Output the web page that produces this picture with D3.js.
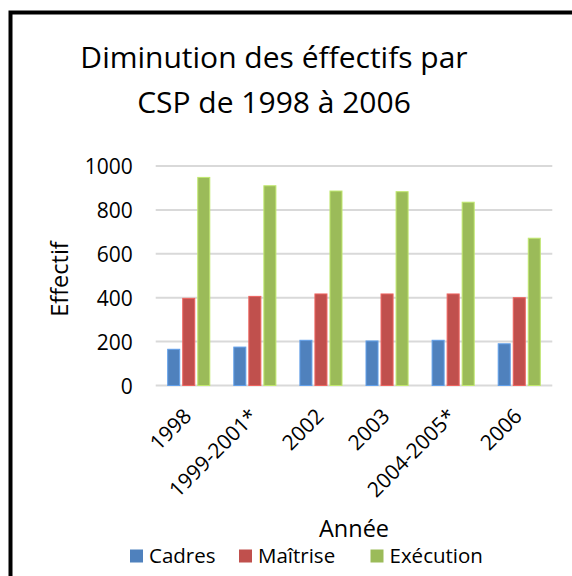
<!DOCTYPE html>
<html>
<head>
<meta charset="utf-8">
<script src="https://cdn.jsdelivr.net/npm/d3@7"></script>
<style>
	body { margin: 0; background: white; }
	svg { display: block; }
</style>
</head>
<body>
<script>
// categories (x axis) and one array per series
const years = ["1998", "1999-2001*", "2002", "2003", "2004-2005*", "2006"];
const cadres = [165, 175, 206, 203, 206, 190];
const maitrise = [397, 406, 417, 417, 417, 400];
const execution = [948, 910, 886, 883, 835, 671];
const seriesNames = ["Cadres", "Maîtrise", "Exécution"];
const seriesColors = ["#4F81BD", "#C0504D", "#9BBB59"];
const yTicks = [0, 200, 400, 600, 800, 1000];

const width = 572,
	height = 576,
	marginLeft = 155.7,
	marginRight = 19.7, // plot ends at 552.3
	plotTop = 166,
	plotBottom = 385.5;

const font = "'Open Sans', sans-serif";

// long table built from the arrays
const table = years.map((y, i) => ({
	year: y,
	values: [cadres[i], maitrise[i], execution[i]]
}));

const svg = d3.select("body")
	.append("svg")
	.attr("width", width)
	.attr("height", height)
	.attr("font-family", font)
	.style("background-color", "white");

// black frame, runs off the right and bottom of the picture
svg.append("rect")
	.attr("x", 10.5)
	.attr("y", 12.5)
	.attr("width", width + 20)
	.attr("height", height + 20)
	.attr("fill", "none")
	.attr("stroke", "black")
	.attr("stroke-width", 4);

// title, two lines
const title = svg.append("text")
	.attr("text-anchor", "middle")
	.attr("font-size", 30)
	.attr("fill", "#000");
title.append("tspan").attr("x", 274).attr("y", 68).text("Diminution des éffectifs par");
title.append("tspan").attr("x", 274).attr("y", 113).text("CSP de 1998 à 2006");

// scales
const x0 = d3.scaleBand()
	.domain(years)
	.range([marginLeft, width - marginRight])
	.padding(0);

const x1 = d3.scaleBand()
	.domain(seriesNames)
	.range([12, x0.bandwidth() - 12])
	.paddingInner(0.2)
	.paddingOuter(0);

const y = d3.scaleLinear()
	.domain([0, 1000])
	.range([plotBottom, plotTop]);

// horizontal gridlines
svg.append("g")
	.selectAll("line")
	.data(yTicks)
	.enter()
	.append("line")
	.attr("x1", marginLeft)
	.attr("x2", width - marginRight)
	.attr("y1", d => y(d))
	.attr("y2", d => y(d))
	.attr("stroke", "#D9D9D9")
	.attr("stroke-width", 2);

// y axis labels (no axis line)
const yAxis = svg.append("g")
	.attr("transform", `translate(${marginLeft - 8},0)`)
	.call(d3.axisLeft(y).tickValues(yTicks).tickFormat(d3.format("d")).tickSize(0).tickPadding(15));
yAxis.select(".domain").remove();
yAxis.selectAll("text")
	.attr("font-family", font)
	.attr("font-size", 21)
	.attr("fill", "#000")
	.attr("dy", "0.36em");

// bars
const groups = svg.append("g")
	.selectAll("g")
	.data(table)
	.enter()
	.append("g")
	.attr("transform", d => `translate(${x0(d.year)},0)`);

groups.selectAll("rect")
	.data(d => d.values.map((v, i) => ({ key: seriesNames[i], value: v, i: i })))
	.enter()
	.append("rect")
	.attr("x", d => x1(d.key))
	.attr("y", d => y(d.value))
	.attr("width", x1.bandwidth())
	.attr("height", d => y(0) - y(d.value))
	.attr("fill", d => seriesColors[d.i])
	.attr("stroke", d => d3.color(seriesColors[d.i]).brighter(0.6))
	.attr("stroke-width", 1);

// x axis labels, rotated 45 degrees
const xAxis = svg.append("g")
	.attr("transform", `translate(0,${plotBottom})`)
	.call(d3.axisBottom(x0).tickSize(0).tickPadding(0));
xAxis.select(".domain").remove();
xAxis.selectAll("text")
	.attr("font-family", font)
	.attr("font-size", 21)
	.attr("fill", "#000")
	.attr("text-anchor", "end")
	.attr("dy", 0)
	.attr("transform", "translate(4,32) rotate(-45)");

// axis titles
svg.append("text")
	.attr("transform", "translate(68,279) rotate(-90)")
	.attr("text-anchor", "middle")
	.attr("font-size", 23.5)
	.text("Effectif");

svg.append("text")
	.attr("x", (marginLeft + width - marginRight) / 2)
	.attr("y", 536.5)
	.attr("text-anchor", "middle")
	.attr("font-size", 23.5)
	.text("Année");

// legend
const legendX = [130, 239, 370.5];
const legend = svg.append("g")
	.selectAll("g")
	.data(seriesNames)
	.enter()
	.append("g")
	.attr("transform", (d, i) => `translate(${legendX[i]},549.5)`);

legend.append("rect")
	.attr("width", 13)
	.attr("height", 13)
	.attr("fill", (d, i) => seriesColors[i]);

legend.append("text")
	.attr("x", 19)
	.attr("y", 13)
	.attr("font-size", 20.5)
	.text(d => d);
</script>
</body>
</html>
